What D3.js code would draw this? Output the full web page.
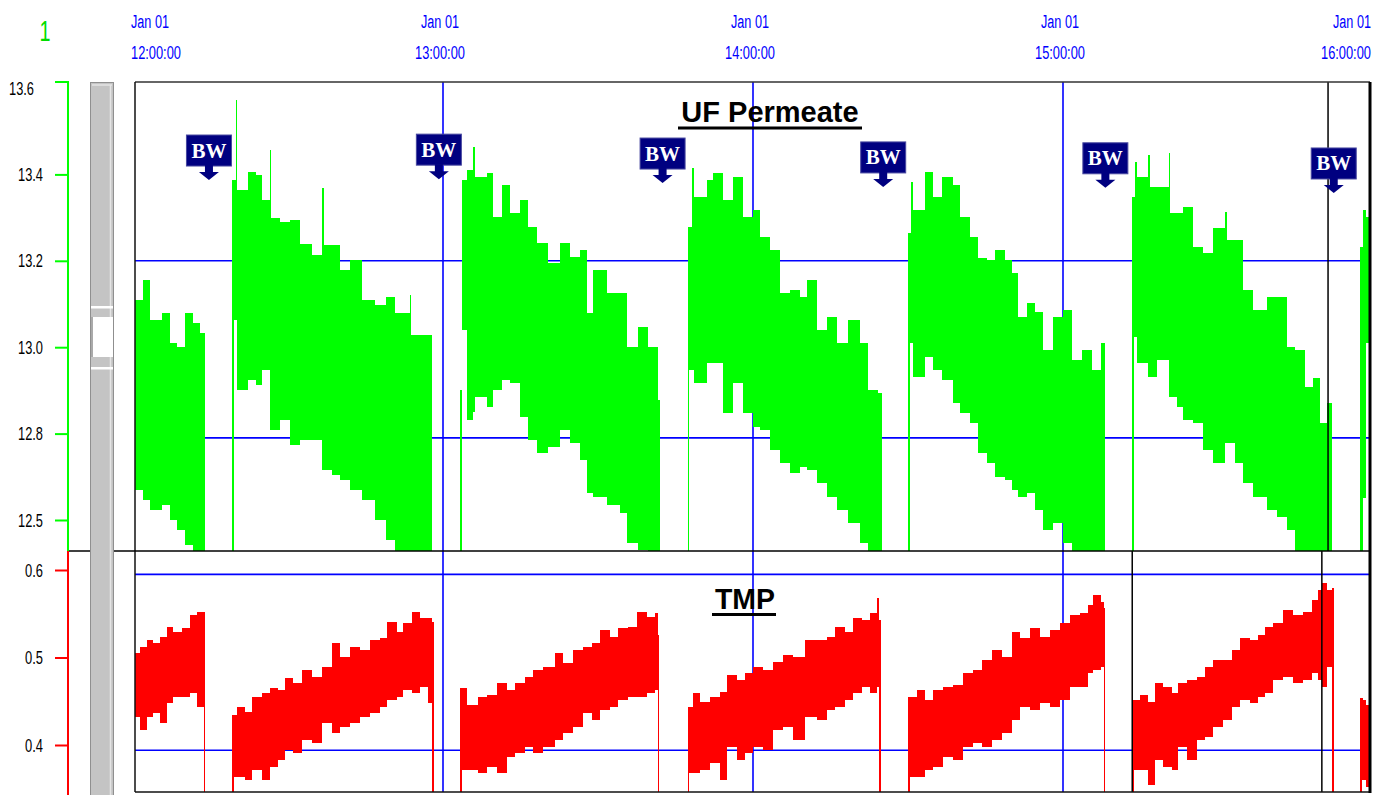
<!DOCTYPE html>
<html><head><meta charset="utf-8">
<script src="https://cdn.jsdelivr.net/npm/d3@7/dist/d3.min.js"></script>
<style>body{margin:0;background:#fff}svg{display:block}</style>
</head><body>
<script>
// ---------- DATA (minutes after 12:00) ----------
const hourTicks = [0, 60, 120, 180, 240];
const dateLabels = ["Jan 01", "Jan 01", "Jan 01", "Jan 01", "Jan 01"];
const timeLabels = ["12:00:00", "13:00:00", "14:00:00", "15:00:00", "16:00:00"];
const gridHours = [60, 120, 180];

const permTicks = [13.6, 13.4, 13.2, 13.0, 12.8, 12.6];
const permTickLabels = ["13.6", "13.4", "13.2", "13.0", "12.8", "12.5"];
const permGrid = [13.2, 12.79];
const tmpTicks = [0.6, 0.5, 0.4];
const tmpTickLabels = ["0.6", "0.5", "0.4"];
const tmpGrid = [0.595, 0.394];

const cursorTop = [231.3];
const cursorBottom = [193.4, 230.1];

const bwTimes = [14.7, 59.2, 102.5, 145.2, 188.2, 232.4];
const bwLevels = [13.387, 13.389, 13.380, 13.371, 13.369, 13.357];

// UF Permeate cycles: [minute, high, low]
const permC0 = [[0.4,13.109,12.669],[1.9,13.156,12.646],[3.3,13.063,12.623],[5.6,13.079,12.635],[7.2,13.010,12.600],[8.5,13.000,12.577],[10.1,13.079,12.542],[11.6,13.056,12.50],[13.0,13.033,12.50],[13.9,12.924,12.50]];
const permC1 = [[19.2,13.387,12.50],[19.5,13.387,13.063],[19.9,13.572,13.063],[20.2,13.364,12.901],[22.3,13.406,12.924],[23.8,13.399,12.912],[25.0,13.341,12.947],[26.5,13.456,12.808],[26.8,13.300,12.808],[28.5,13.290,12.831],[30.4,13.294,12.774],[32.3,13.240,12.785],[34.6,13.213,12.785],[36.6,13.369,12.716],[36.9,13.237,12.716],[38.5,13.237,12.704],[40.1,13.179,12.693],[42.0,13.202,12.669],[44.3,13.109,12.646],[46.8,13.098,12.600],[49.0,13.116,12.554],[50.7,13.079,12.50],[53.6,13.121,12.50],[53.9,13.028,12.50],[55.5,13.028,12.50],[57.9,13.021,12.50]];
const permC2 = [[63.3,12.901,12.50],[63.6,13.387,13.040],[64.6,13.410,12.831],[65.8,13.463,12.850],[66.1,13.394,12.885],[68.5,13.403,12.862],[69.7,13.301,12.901],[71.4,13.375,12.924],[73.0,13.311,12.917],[74.9,13.341,12.838],[76.5,13.278,12.785],[78.2,13.241,12.755],[80.3,13.195,12.769],[82.6,13.241,12.808],[84.6,13.209,12.778],[86.5,13.225,12.739],[87.9,13.079,12.662],[89.0,13.179,12.653],[91.7,13.125,12.635],[94.3,13.125,12.616],[95.6,13.000,12.547],[97.7,13.047,12.531],[99.7,13.000,12.50],[101.6,12.878,12.50],[102.0,12.878,12.50]];
const permC3 = [[107.4,13.278,12.50],[107.7,13.278,12.947],[108.2,13.415,12.947],[108.5,13.348,12.917],[111.1,13.387,12.963],[112.3,13.403,12.963],[114.2,13.341,12.848],[116.1,13.394,12.917],[118.1,13.301,12.848],[120.0,13.318,12.815],[121.3,13.255,12.808],[123.3,13.225,12.762],[125.2,13.125,12.732],[127.2,13.132,12.709],[129.1,13.116,12.723],[130.5,13.156,12.716],[132.4,13.040,12.686],[134.3,13.070,12.653],[136.3,13.010,12.623],[138.4,13.063,12.593],[140.7,13.010,12.547],[142.3,12.901,12.50],[144.2,12.894,12.50],[145.0,12.693,12.50]];
const permC4 = [[150.0,13.264,12.50],[150.3,13.264,13.010],[150.6,13.382,13.010],[150.9,13.318,12.931],[153.3,13.406,12.977],[154.8,13.348,12.947],[156.6,13.394,12.924],[158.7,13.375,12.871],[160.1,13.301,12.848],[162.0,13.255,12.824],[163.5,13.206,12.755],[165.3,13.202,12.732],[166.8,13.225,12.700],[168.8,13.202,12.693],[170.1,13.172,12.669],[171.3,13.070,12.653],[173.0,13.102,12.662],[174.6,13.081,12.623],[176.1,12.994,12.577],[178.1,13.070,12.593],[180.0,13.086,12.547],[181.7,12.970,12.50],[183.7,12.994,12.50],[185.6,12.947,12.50],[187.4,13.010,12.50],[188.1,12.871,12.50]];
const permC5 = [[193.4,13.348,12.50],[193.7,13.348,13.024],[194.0,13.429,13.024],[194.3,13.394,12.963],[196.5,13.445,12.931],[196.8,13.371,12.931],[198.2,13.371,12.970],[200.5,13.450,12.885],[200.8,13.311,12.885],[202.1,13.311,12.862],[203.2,13.325,12.831],[205.2,13.232,12.824],[207.1,13.218,12.762],[209.0,13.276,12.732],[211.4,13.313,12.778],[211.7,13.248,12.778],[213.3,13.248,12.732],[214.8,13.132,12.686],[216.8,13.086,12.653],[219.5,13.116,12.623],[221.4,13.116,12.607],[223.4,13.000,12.577],[224.9,12.994,12.50],[226.9,12.908,12.50],[228.4,12.929,12.50],[229.7,12.824,12.50],[231.1,12.871,12.50],[232.1,12.855,12.50]];
const permC6 = [[237.5,13.232,12.50],[238.1,13.318,12.65],[238.7,13.301,13.010],[239.4,13.301,13.010]];

// TMP cycles: [minute, high, low]
const tmpC0 = [[0.4,0.5051,0.432],[1.4,0.512,0.4171],[2.7,0.52,0.432],[3.9,0.5166,0.4366],[5.2,0.5234,0.4251],[6.6,0.5349,0.448],[7.7,0.5291,0.4549],[9.5,0.5337,0.4549],[11.0,0.5486,0.4594],[12.4,0.552,0.4434],[13.7,0.552,0.30],[14.0,0.552,0.30]];
const tmpC1 = [[19.2,0.4343,0.30],[19.5,0.4343,0.3634],[20.1,0.4434,0.3634],[21.7,0.4377,0.36],[23.0,0.4549,0.3714],[25.0,0.4594,0.36],[26.5,0.4651,0.3749],[28.1,0.4629,0.3829],[29.4,0.4766,0.3943],[31.0,0.4709,0.3909],[32.7,0.4857,0.4057],[34.6,0.4777,0.4023],[36.6,0.4891,0.4251],[38.5,0.5166,0.4137],[40.1,0.5006,0.4206],[42.0,0.512,0.4251],[43.9,0.5086,0.432],[45.9,0.52,0.4366],[47.8,0.5223,0.4434],[49.2,0.5406,0.4514],[51.1,0.5291,0.4549],[52.3,0.5394,0.4629],[54.0,0.552,0.4594],[55.5,0.5451,0.4663],[57.1,0.5451,0.448],[57.9,0.5406,0.30],[58.2,0.5406,0.30]];
const tmpC2 = [[63.3,0.4651,0.30],[63.6,0.4651,0.3714],[64.6,0.4457,0.3714],[66.8,0.4549,0.368],[68.5,0.4571,0.3749],[70.5,0.4709,0.368],[72.4,0.4629,0.3863],[73.9,0.4709,0.3909],[75.9,0.4777,0.3977],[77.4,0.4857,0.3909],[79.4,0.4891,0.3977],[81.7,0.5051,0.4057],[83.2,0.4937,0.4137],[85.2,0.5086,0.4206],[87.1,0.512,0.4366],[88.8,0.5166,0.4286],[90.4,0.5314,0.44],[92.3,0.5234,0.4434],[93.9,0.5337,0.4514],[95.8,0.5349,0.4549],[97.5,0.552,0.4549],[99.5,0.5463,0.4594],[101.0,0.5509,0.4629],[101.6,0.5257,0.30],[101.9,0.5257,0.30]];
const tmpC3 = [[107.4,0.4434,0.30],[107.7,0.4434,0.368],[108.4,0.4594,0.368],[109.7,0.4491,0.3714],[111.7,0.4549,0.3794],[113.6,0.4606,0.36],[115.0,0.48,0.3977],[116.9,0.4743,0.3829],[118.5,0.4823,0.3909],[120.0,0.4891,0.3977],[121.9,0.4857,0.3943],[123.9,0.4949,0.4171],[125.8,0.5029,0.4206],[127.7,0.5006,0.4057],[130.1,0.52,0.432],[132.4,0.52,0.4286],[134.3,0.5234,0.44],[135.9,0.5349,0.4434],[137.8,0.5291,0.4514],[139.4,0.5451,0.4594],[141.1,0.5429,0.4663],[142.7,0.5509,0.4594],[144.0,0.568,0.4663],[144.4,0.5429,0.30],[144.7,0.5429,0.30]];
const tmpC4 = [[150.0,0.4549,0.30],[150.3,0.4549,0.3634],[151.7,0.4629,0.3634],[153.3,0.4514,0.3714],[154.8,0.4629,0.3749],[156.8,0.4663,0.3863],[158.7,0.4686,0.3829],[160.6,0.4823,0.3977],[162.6,0.4857,0.4023],[164.3,0.4971,0.3977],[166.3,0.5086,0.4057],[168.2,0.5006,0.4137],[170.1,0.5291,0.4286],[171.7,0.5223,0.4434],[173.6,0.5337,0.44],[175.5,0.5234,0.448],[177.5,0.5314,0.4434],[179.4,0.5394,0.4514],[181.4,0.5486,0.4663],[183.3,0.5509,0.4663],[184.8,0.56,0.4823],[185.8,0.5714,0.4857],[187.4,0.5634,0.4891],[187.9,0.5566,0.30],[188.2,0.5566,0.30]];
const tmpC5 = [[193.4,0.4514,0.30],[193.7,0.4514,0.3714],[194.9,0.4571,0.3714],[196.5,0.4491,0.3543],[197.8,0.4709,0.3829],[199.4,0.4663,0.3749],[201.1,0.4594,0.3714],[202.3,0.4709,0.3977],[204.0,0.4743,0.3829],[206.0,0.4777,0.4057],[207.5,0.4891,0.4091],[209.0,0.4971,0.4206],[211.0,0.4971,0.4286],[212.7,0.5086,0.4434],[214.3,0.5223,0.4514],[216.2,0.52,0.448],[217.7,0.5257,0.4549],[219.1,0.5349,0.4594],[220.6,0.5394,0.4743],[222.6,0.5543,0.4777],[224.5,0.5486,0.4709],[226.5,0.552,0.4743],[228.2,0.5657,0.4823],[229.4,0.5771,0.4743],[230.1,0.5851,0.4663],[231.1,0.5771,0.4891],[232.1,0.5794,0.30],[232.4,0.5794,0.30]];
const tmpC6 = [[237.5,0.4537,0.30],[237.8,0.4537,0.36],[238.1,0.4514,0.36],[238.7,0.4457,0.352],[239.4,0.4366,0.3657]];

const permeateCycles = [permC0, permC1, permC2, permC3, permC4, permC5, permC6];
const tmpCycles = [tmpC0, tmpC1, tmpC2, tmpC3, tmpC4, tmpC5, tmpC6];

// ---------- DRAWING ----------
const W = 1385, H = 795;
const L = 135, R = 1370, T = 82, M = 551, B = 792, AX = 68;
const svg = d3.select('body').append('svg').attr('width', W).attr('height', H);
svg.append('rect').attr('width', W).attr('height', H).attr('fill', '#fff');

const x = d3.scaleLinear().domain([0, 240]).range([133, 1373]);
const yP = d3.scaleLinear().domain([12.6, 13.6]).range([520, 88]);
const yT = d3.scaleLinear().domain([0.4, 0.6]).range([745, 570]);

// horizontally squeeze a text so that its width is w (condensed look)
function squeeze(sel, w, anchor) {
  sel.each(function () {
    const el = d3.select(this);
    const nat = this.getComputedTextLength();
    const sx = Math.min(1, w / nat);
    const x0 = +el.attr('x') || 0, y0 = +el.attr('y') || 0;
    el.attr('x', 0).attr('y', 0)
      .attr('transform', `translate(${x0},${y0}) scale(${sx},1)`)
      .attr('text-anchor', anchor);
  });
}

const defs = svg.append('defs');
defs.append('clipPath').attr('id', 'cp').append('rect').attr('x', L).attr('y', T).attr('width', R - L).attr('height', M - T);
defs.append('clipPath').attr('id', 'ct').append('rect').attr('x', L).attr('y', M).attr('width', R - L).attr('height', B - M);

// gridlines
const grid = svg.append('g').attr('stroke', '#0000ff').attr('stroke-width', 1.6);
grid.selectAll('line.gp').data(permGrid).join('line').attr('class', 'gp')
  .attr('x1', L).attr('x2', R).attr('y1', d => yP(d)).attr('y2', d => yP(d));
grid.selectAll('line.gt').data(tmpGrid).join('line').attr('class', 'gt')
  .attr('x1', L).attr('x2', R).attr('y1', d => yT(d)).attr('y2', d => yT(d));
grid.selectAll('line.gv').data(gridHours).join('line').attr('class', 'gv')
  .attr('x1', d => x(d)).attr('x2', d => x(d)).attr('y1', T).attr('y2', B);

// data bands
const aP = d3.area().curve(d3.curveStepAfter).x(d => x(d[0])).y0(d => yP(d[2])).y1(d => yP(d[1]));
const aT = d3.area().curve(d3.curveStepAfter).x(d => x(d[0])).y0(d => yT(d[2])).y1(d => yT(d[1]));
svg.append('g').attr('clip-path', 'url(#cp)').selectAll('path').data(permeateCycles).join('path')
  .attr('d', aP).attr('fill', '#00ff00').attr('shape-rendering', 'crispEdges');
svg.append('g').attr('clip-path', 'url(#ct)').selectAll('path').data(tmpCycles).join('path')
  .attr('d', aT).attr('fill', '#ff0000').attr('shape-rendering', 'crispEdges');

// cursors
const cur = svg.append('g').attr('stroke', '#000').attr('stroke-width', 1.5);
cur.selectAll('line.ct').data(cursorTop).join('line').attr('class', 'ct')
  .attr('x1', d => x(d)).attr('x2', d => x(d)).attr('y1', T).attr('y2', M);
cur.selectAll('line.cb').data(cursorBottom).join('line').attr('class', 'cb')
  .attr('x1', d => x(d)).attr('x2', d => x(d)).attr('y1', M).attr('y2', B);

// frame
const fr = svg.append('g').attr('fill', 'none');
fr.append('line').attr('x1', L).attr('x2', R).attr('y1', T).attr('y2', T).attr('stroke', '#333').attr('stroke-width', 1.5);
fr.append('line').attr('x1', L).attr('x2', L).attr('y1', T).attr('y2', B).attr('stroke', '#111').attr('stroke-width', 1.5);
fr.append('line').attr('x1', L).attr('x2', R).attr('y1', B).attr('y2', B).attr('stroke', '#111').attr('stroke-width', 1.5);
fr.append('line').attr('x1', R).attr('x2', R).attr('y1', T).attr('y2', B + 1).attr('stroke', '#000').attr('stroke-width', 3);
fr.append('line').attr('x1', AX).attr('x2', R).attr('y1', M).attr('y2', M).attr('stroke', '#000').attr('stroke-width', 1.5);

// scrollbar
const sb = svg.append('g');
sb.append('rect').attr('x', 90.5).attr('y', 82.5).attr('width', 23).attr('height', 720).attr('fill', '#c4c4c4').attr('stroke', '#8f8f8f');
sb.append('line').attr('x1', 110.5).attr('x2', 110.5).attr('y1', 85).attr('y2', 800).attr('stroke', '#e4e4e4').attr('stroke-width', 1.5);
sb.append('line').attr('x1', 92).attr('x2', 112).attr('y1', 85).attr('y2', 85).attr('stroke', '#e4e4e4').attr('stroke-width', 1.5);
sb.append('rect').attr('x', 91).attr('y', 306).attr('width', 22).attr('height', 2.5).attr('fill', '#fff');
sb.append('rect').attr('x', 91).attr('y', 367).attr('width', 22).attr('height', 2.5).attr('fill', '#fff');
sb.append('rect').attr('x', 93).attr('y', 317).attr('width', 20).attr('height', 40).attr('fill', '#fff');
sb.append('line').attr('x1', 92).attr('x2', 92).attr('y1', 317).attr('y2', 357).attr('stroke', '#8f8f8f');

// BW markers
const bw = svg.append('g').selectAll('g').data(bwTimes).join('g')
  .attr('transform', (d, i) => `translate(${x(d)},${yP(bwLevels[i])})`);
bw.append('rect').attr('x', -22.5).attr('y', -45).attr('width', 45).attr('height', 31)
  .attr('fill', '#000080').attr('stroke', '#4848a0').attr('stroke-width', 1);
bw.append('rect').attr('x', -4).attr('y', -15).attr('width', 8).attr('height', 8).attr('fill', '#000080');
bw.append('path').attr('d', 'M-10,-8 L10,-8 L0,0 Z').attr('fill', '#000080');
bw.append('text').attr('x', 0).attr('y', -22.5)
  .attr('font-family', '"Liberation Serif","Times New Roman",serif').attr('font-weight', 'bold')
  .attr('font-size', 21).attr('fill', '#fff').text('BW')
  .call(squeeze, 36, 'middle');

// titles
const titleFont = '"Liberation Sans",Arial,sans-serif';
svg.append('text').attr('x', 770).attr('y', 122)
  .attr('font-family', titleFont).attr('font-weight', 'bold').attr('font-size', 29)
  .attr('fill', '#000').text('UF Permeate').call(squeeze, 180, 'middle');
svg.append('rect').attr('x', 678).attr('y', 126.5).attr('width', 184).attr('height', 3).attr('fill', '#000');
svg.append('text').attr('x', 745).attr('y', 609)
  .attr('font-family', titleFont).attr('font-weight', 'bold').attr('font-size', 29)
  .attr('fill', '#000').text('TMP').call(squeeze, 60, 'middle');
svg.append('rect').attr('x', 712).attr('y', 613).attr('width', 64).attr('height', 3).attr('fill', '#000');

// left axes
const narrow = '"Liberation Sans",Arial,sans-serif';
const axP = d3.axisLeft(yP).tickValues(permTicks).tickFormat((d, i) => permTickLabels[i])
  .tickSize(13).tickPadding(12).tickSizeOuter(0);
const gP = svg.append('g').attr('transform', `translate(${AX},0)`).call(axP);
gP.select('.domain').remove();
gP.selectAll('.tick line').attr('stroke', '#00ff00').attr('stroke-width', 2);
gP.selectAll('.tick line').filter(d => d === 13.6).remove();
gP.selectAll('.tick text').attr('font-family', narrow).attr('font-size', 18).attr('fill', '#000');
gP.selectAll('.tick text').filter(d => d === 13.6).attr('x', -34);
gP.selectAll('.tick text').each(function () {
  const el = d3.select(this);
  el.attr('y', 6).attr('dy', null);
}).call(squeeze, 25, 'end');
svg.append('path').attr('d', `M55,${T} H${AX} V${M}`).attr('fill', 'none').attr('stroke', '#00ff00').attr('stroke-width', 2);

const axT = d3.axisLeft(yT).tickValues(tmpTicks).tickFormat((d, i) => tmpTickLabels[i])
  .tickSize(13).tickPadding(12).tickSizeOuter(0);
const gT = svg.append('g').attr('transform', `translate(${AX},0)`).call(axT);
gT.select('.domain').remove();
gT.selectAll('.tick line').attr('stroke', '#ff0000').attr('stroke-width', 2);
gT.selectAll('.tick text').attr('font-family', narrow).attr('font-size', 18).attr('fill', '#000')
  .attr('y', 6).attr('dy', null).call(squeeze, 18, 'end');
svg.append('line').attr('x1', AX).attr('x2', AX).attr('y1', M).attr('y2', H).attr('stroke', '#ff0000').attr('stroke-width', 2);

// green "1"
svg.append('text').attr('x', 45).attr('y', 41)
  .attr('font-family', narrow).attr('font-size', 30).attr('fill', '#00dd00')
  .text('1').call(squeeze, 11, 'middle');

// top time labels
const tl = svg.append('g').attr('font-family', narrow).attr('font-size', 19).attr('fill', '#0000ff');
hourTicks.forEach((t, i) => {
  const cx = x(t) - 3;
  [[dateLabels[i], 38, 28], [timeLabels[i], 50, 59]].forEach(([txt, w, yb]) => {
    const left = Math.max(131, Math.min(1371 - w, cx - w / 2));
    tl.append('text').attr('x', left).attr('y', yb).text(txt).call(squeeze, w, 'start');
  });
});
</script>
</body></html>
